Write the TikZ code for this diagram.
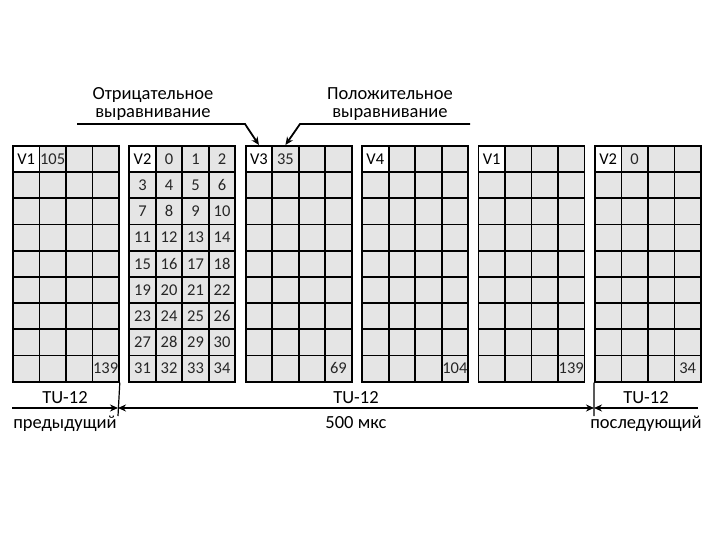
\documentclass[tikz,border=0pt]{standalone}
\usepackage{fontspec}
\setmainfont{Carlito}
\usetikzlibrary{arrows.meta}
\begin{document}
\begin{tikzpicture}[x=1pt,y=-1pt,
  >={Stealth[length=8pt,width=7pt]},
  cell/.style={draw=black, line width=1.8pt, fill=black!10, minimum width=26.5pt, minimum height=26.2pt, inner sep=0pt, anchor=north west},
  vcell/.style={cell, fill=white, font=\fontsize{16.5}{16.5}\selectfont, text height=10.5pt, text depth=0pt},
  num/.style={font=\fontsize{16.5}{16.5}\selectfont, text=black!85, inner sep=0pt, text height=10.5pt, text depth=0pt},
  lbl/.style={font=\fontsize{18.5}{19}\selectfont, anchor=base, inner sep=0pt},
  toparrow/.style={line width=1.8pt, ->},
  spanline/.style={line width=1.6pt},
  tickline/.style={line width=1.2pt}]
\useasboundingbox (0,0) rectangle (720,540);
% grids
\foreach \b in {0,...,5}{
  \foreach \r in {0,...,8}{
    \foreach \c in {0,...,3}{
      \node[cell] (b\b-\r-\c) at ({12+116.4*\b+26.5*\c},{145+26.2*\r}) {};
    }
  }
}
% V cells
\node[vcell] (v1a) at (b0-0-0.north west) {V1};
\node[vcell] (v2a) at (b1-0-0.north west) {V2};
\node[vcell] (v3)  at (b2-0-0.north west) {V3};
\node[vcell] (v4)  at (b3-0-0.north west) {V4};
\node[vcell] (v1b) at (b4-0-0.north west) {V1};
\node[vcell] (v2b) at (b5-0-0.north west) {V2};
% numbers
\node[num] (n105) at (b0-0-1) {105};
\node[num] (n139a) at (b0-8-3) {139};
\foreach \r in {0,...,8}{
  \foreach \c in {0,...,3}{
    \pgfmathtruncatemacro{\n}{\r*4+\c-1}
    \ifnum\n>-1
      \node[num] (m\n) at (b1-\r-\c) {\n};
    \fi
  }
}
\node[num] (n35) at (b2-0-1) {35};
\node[num] (n69) at (b2-8-3) {69};
\node[num] (n104) at (b3-8-3) {104};
\node[num] (n139b) at (b4-8-3) {139};
\node[num] (n0) at (b5-0-1) {0};
\node[num] (n34) at (b5-8-3) {34};
% top labels
\node[lbl] (neg1) at (153,100) {Отрицательное};
\node[lbl] (neg2) at (153,118) {выравнивание};
\node[lbl] (pos1) at (390,100) {Положительное};
\node[lbl] (pos2) at (390,118) {выравнивание};
\coordinate (nl) at (77,124);
\coordinate (nk) at (245,124);
\coordinate (pl) at (470,124);
\coordinate (pk) at (300,124);
\draw[toparrow] (nl) -- (nk) -- (b2-0-0.north);
\draw[toparrow] (pl) -- (pk) -- (b2-0-1.north);
% bottom marks
\coordinate (m1) at (118,416);
\coordinate (m2) at (594,416);
\draw[tickline] (b0-8-3.south east) -- (m1);
\draw[tickline] (b5-8-0.south west) -- (m2);
\coordinate (h0) at (12,408);
\coordinate (h1) at (118,408);
\coordinate (h2) at (594,408);
\coordinate (h3) at (698,408);
\draw[spanline, ->] (h0) -- (h1);
\draw[spanline, <->] (h1) -- (h2);
\draw[spanline, ->] (h3) -- (h2);
\node[lbl] (tu1) at (65,403) {TU-12};
\node[lbl] (tu2) at (356,403) {TU-12};
\node[lbl] (tu3) at (646,403) {TU-12};
\node[lbl] (prev) at (65,428) {предыдущий};
\node[lbl] (dur) at (356,428) {500 мкс};
\node[lbl] (next) at (646,428) {последующий};
\end{tikzpicture}
\end{document}
